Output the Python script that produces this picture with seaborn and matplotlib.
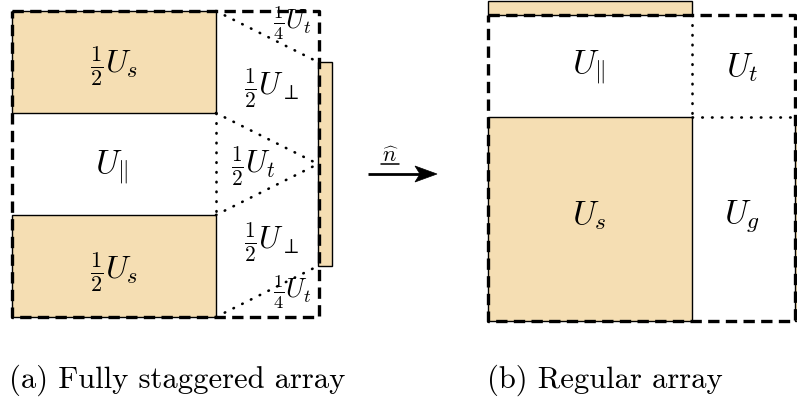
import matplotlib
matplotlib.use("Agg")
import matplotlib.pyplot as plt
import matplotlib.patches as mpatches
import seaborn as sns

sns.set_theme(style="white")
plt.rcParams["mathtext.fontset"] = "cm"
plt.rcParams["font.family"] = ["cmr10", "DejaVu Serif"]
plt.rcParams["axes.unicode_minus"] = False
plt.rcParams["text.color"] = "black"

TAN = "#F5DEB3"

# --- geometry of the two unit cells (canvas pixel units, y pointing down) ---
# (a) fully staggered array
box_a = (12, 12, 319, 318)
solid_a = [(12, 12, 216, 114), (12, 216, 216, 318), (318, 63, 332, 267)]
dotted_a = [((216, 12), (318, 63)), ((216, 114), (318, 165)),
            ((216, 216), (318, 165)), ((216, 318), (318, 267)),
            ((216, 114), (216, 216))]
labels_a = [r"$\frac{1}{2}U_s$", r"$U_\Vert$", r"$\frac{1}{2}U_s$",
            r"$\frac{1}{2}U_\perp$", r"$\frac{1}{2}U_t$", r"$\frac{1}{2}U_\perp$",
            r"$\frac{1}{4}U_t$", r"$\frac{1}{4}U_t$"]
label_pos_a = [(114, 66), (112, 168), (114, 272), (271, 88), (253, 166),
               (271, 242), (292, 23), (292, 292)]
label_size_a = [23, 24, 23, 22, 22, 22, 19, 19]

# (b) regular array
box_b = (488, 16, 795, 322)
solid_b = [(488, 2, 692, 16), (488, 118, 692, 322), (795, 118, 812, 322)]
dotted_b = [((692, 16), (692, 118)), ((692, 118), (795, 118))]
labels_b = [r"$U_\Vert$", r"$U_t$", r"$U_s$", r"$U_g$"]
label_pos_b = [(589, 68), (742, 68), (589, 216), (742, 216)]

captions = ["(a) Fully staggered array", "(b) Regular array"]
caption_x = [9, 487]

fig = plt.figure(figsize=(7.97, 4.02), dpi=100)
ax = fig.add_axes([0, 0, 1, 1])
ax.set_xlim(0, 797)
ax.set_ylim(402, 0)
ax.set_axis_off()


def rect(ax, r, **kw):
    x0, y0, x1, y1 = r
    ax.add_patch(mpatches.Rectangle((x0, y0), x1 - x0, y1 - y0, **kw))


def dashed_box(ax, r):
    x0, y0, x1, y1 = r
    ax.plot([x0, x1, x1, x0, x0], [y0, y0, y1, y1, y0], color="black",
            lw=2.4, linestyle=(0, (3.4, 1.9)), solid_capstyle="butt",
            zorder=5)


def dotted(ax, segs):
    for (xa, ya), (xb, yb) in segs:
        ax.plot([xa, xb], [ya, yb], color="black", lw=1.9,
                linestyle=(0, (0.2, 3.5)), dash_capstyle="round", zorder=3)


for r in solid_a + solid_b:
    rect(ax, r, facecolor=TAN, edgecolor="black", lw=1.0, zorder=2)

dotted(ax, dotted_a)
dotted(ax, dotted_b)
dashed_box(ax, box_a)
dashed_box(ax, box_b)

for txt, (x, y), fs in zip(labels_a, label_pos_a, label_size_a):
    ax.text(x, y, txt, fontsize=fs, ha="center", va="center", zorder=6,
            color="black")
for txt, (x, y) in zip(labels_b, label_pos_b):
    ax.text(x, y, txt, fontsize=24, ha="center", va="center", zorder=6,
            color="black")

# flow direction: shaft plus a stealth-style head
x_tail, x_tip, y_arr = 368, 437, 175
ax.plot([x_tail, x_tip - 8], [y_arr, y_arr], color="black", lw=2.0,
        solid_capstyle="butt")
head_len, head_half, notch = 22, 8, 5
ax.add_patch(mpatches.Polygon(
    [(x_tip, y_arr), (x_tip - head_len, y_arr - head_half),
     (x_tip - head_len + notch, y_arr), (x_tip - head_len, y_arr + head_half)],
    closed=True, facecolor="black", edgecolor="black", lw=0.5))
ax.text(390, 156, r"$\widehat{n}$", fontsize=16, ha="center", va="center",
        color="black")
ax.plot([381, 399], [165, 165], color="black", lw=1.1)

for txt, x in zip(captions, caption_x):
    ax.text(x, 380, txt, fontsize=22, ha="left", va="center", color="black")

fig.savefig("out.png", dpi=100)
